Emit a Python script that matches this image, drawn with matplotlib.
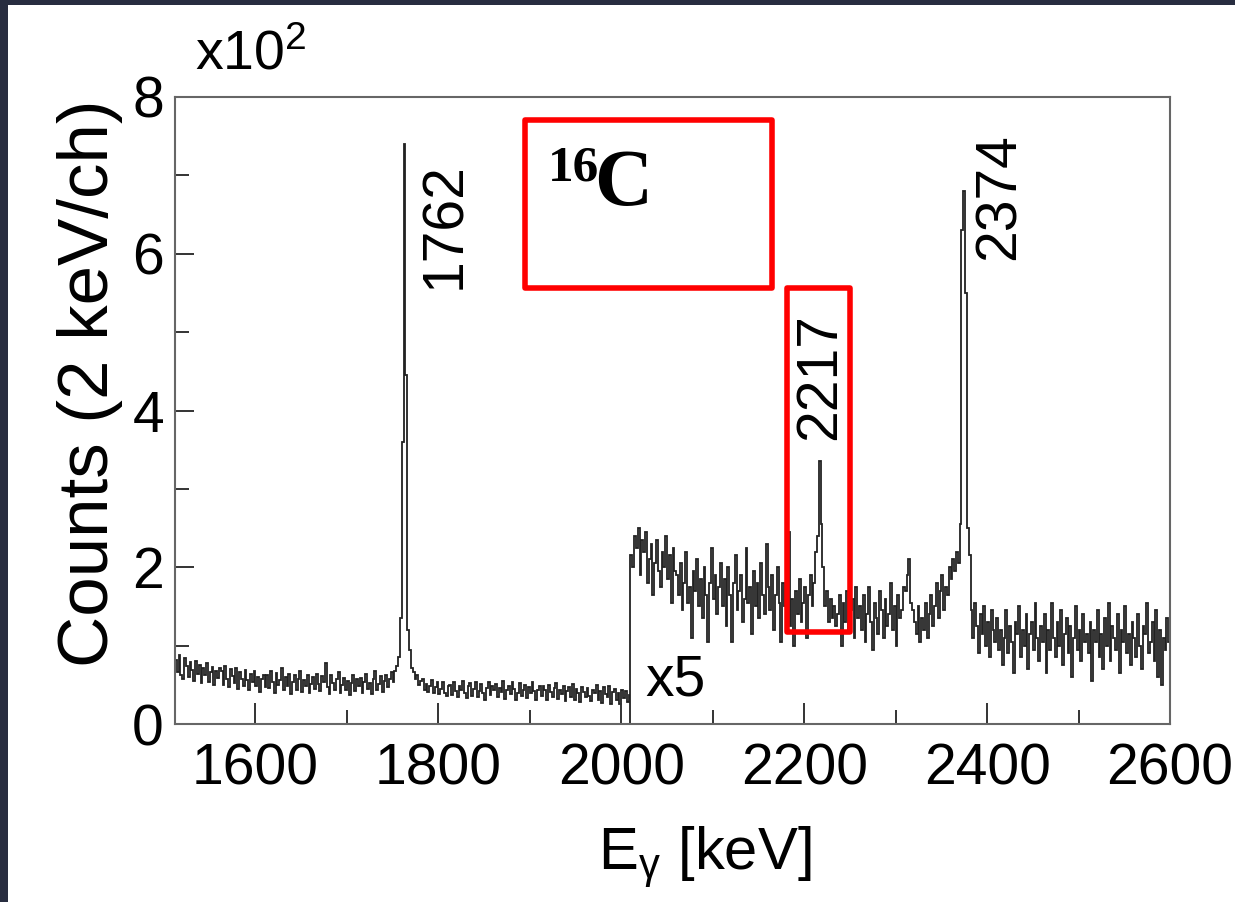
import numpy as np
import matplotlib
matplotlib.use('Agg')
import matplotlib.pyplot as plt
from matplotlib.patches import Rectangle
from matplotlib.ticker import MultipleLocator

plt.rcParams['font.family'] = ['Liberation Sans', 'DejaVu Sans']
plt.rcParams['mathtext.fontset'] = 'custom'
plt.rcParams['mathtext.rm'] = 'Liberation Sans'
plt.rcParams['mathtext.it'] = 'Liberation Sans:italic'

# gamma spectrum, counts per 2 keV channel
ch_width = 2
e_start = 1512
e_split = 2010   # above this the spectrum is shown scaled by 5
e_stop = 2600
scale_high = 5

counts_low = [
    82, 66, 88, 63, 58, 84, 74, 60, 79, 69, 55, 80, 64, 75, 52, 71, 62, 78, 54, 66, 73, 50, 68, 59, 72,
    67, 50, 74, 58, 47, 70, 61, 52, 72, 45, 66, 57, 49, 69, 56, 43, 64, 53, 67, 48, 60, 41, 58, 63, 47,
    63, 46, 68, 54, 40, 65, 50, 56, 71, 43, 60, 48, 64, 38, 53, 62, 44, 58, 67, 41, 56, 49, 62, 39, 51,
    60, 45, 64, 51, 42, 61, 53, 78, 47, 38, 63, 52, 43, 57, 66, 40, 50, 59, 44, 55, 37, 52, 62, 42, 57,
    48, 59, 40, 54, 64, 45, 52, 38, 57, 67, 43, 51, 61, 41, 55, 63, 47, 58, 66, 54, 68, 74, 85, 135, 360,
    740, 445, 120, 95, 72, 66, 57, 62, 50, 55, 58, 44, 51, 41, 48, 56, 39, 47, 53, 38, 45, 54, 40, 36, 49,
    50, 37, 53, 42, 35, 49, 44, 55, 39, 33, 48, 52, 36, 45, 54, 34, 42, 51, 40, 31, 46, 53, 37, 49, 43,
    51, 35, 46, 41, 55, 32, 44, 49, 38, 53, 45, 30, 40, 52, 36, 43, 50, 33, 47, 39, 54, 42, 31, 44, 48,
    36, 48, 43, 30, 50, 41, 35, 46, 52, 32, 44, 38, 49, 29, 42, 47, 34, 51, 31, 45, 40, 28, 47, 41, 35,
    46, 36, 29, 44, 39, 50, 31, 42, 27, 47, 38, 35, 48, 26, 41, 45, 30, 39, 25, 43, 33, 42, 28, 37,
]

counts_high = [
    43, 40, 48, 45, 50, 38, 47, 44, 49, 36, 42, 46, 33, 41, 47, 39, 35, 44, 40, 48, 37, 43, 31, 45, 39,
    38, 33, 41, 29, 36, 44, 31, 35, 22, 39, 34, 42, 30, 37, 27, 40, 33, 21, 36, 45, 32, 38, 28, 35, 41,
    30, 37, 25, 40, 33, 21, 36, 43, 29, 34, 38, 26, 32, 45, 31, 35, 23, 39, 30, 36, 27, 41, 33, 28, 46,
    35, 29, 38, 24, 33, 40, 31, 21, 36, 30, 27, 49, 25, 32, 20, 34, 28, 37, 26, 31, 35, 22, 33, 38, 30,
    36, 44, 48, 67, 51, 40, 30, 34, 26, 32, 27, 30, 25, 28, 33, 20, 31, 26, 34, 24, 29, 32, 22, 35, 27,
    30, 24, 33, 21, 28, 35, 26, 19, 31, 27, 23, 34, 29, 22, 32, 25, 28, 36, 24, 30, 20, 33, 27, 29, 35,
    34, 38, 42, 31, 29, 26, 23, 30, 21, 27, 24, 31, 22, 28, 33, 25, 30, 36, 27, 34, 38, 29, 35, 33, 40,
    37, 42, 39, 44, 41, 51, 126, 136, 110, 50, 43, 29, 22, 31, 25, 18, 28, 23, 30, 20, 26, 17, 29, 24, 21,
    27, 19, 24, 15, 22, 29, 18, 25, 21, 13, 26, 23, 30, 17, 24, 20, 28, 14, 23, 26, 19, 31, 22, 16, 25,
    21, 28, 13, 24, 19, 31, 22, 17, 26, 20, 29, 15, 23, 27, 18, 25, 12, 22, 30, 19, 24, 16, 28, 21, 23,
    18, 26, 11, 24, 21, 29, 17, 23, 14, 27, 20, 31, 16, 25, 22, 19, 28, 13, 24, 21, 30, 18, 23, 15, 26,
    22, 17, 28, 20, 14, 25, 23, 31, 18, 21, 26, 16, 29, 12, 24, 10, 22, 19, 27, 21,
]

peak_energies = [1762, 2217, 2374]
peak_label_pos = [(1807, 5.55), (2217, 3.62), (2414, 5.92)]

edges_low = np.arange(e_start, e_split + 1, ch_width)
edges_high = np.arange(e_split, e_stop + 1, ch_width)
y_low = np.array(counts_low) / 100.0
y_high = np.array(counts_high) * scale_high / 100.0

W, H = 1235, 902
fig = plt.figure(figsize=(W / 100, H / 100), dpi=100)
fig.patch.set_facecolor('#282d40')
fig.add_artist(Rectangle((8 / W, 0), 1, 1 - 5 / H, transform=fig.transFigure,
                         facecolor='white', edgecolor='none', zorder=-10))
ax = fig.add_axes([175 / W, 1 - 724 / H, (1170 - 175) / W, (724 - 97) / H])
ax.set_facecolor('white')

ax.stairs(y_low, edges_low, baseline=None, color='#222222', lw=1.3)
ax.stairs(y_high, edges_high, baseline=0, color='#222222', lw=1.3)

ax.set_xlim(e_start, e_stop)
ax.set_ylim(0, 8)
ax.xaxis.set_major_locator(MultipleLocator(200))
ax.xaxis.set_minor_locator(MultipleLocator(100))
ax.yaxis.set_major_locator(MultipleLocator(2))
ax.yaxis.set_minor_locator(MultipleLocator(1))
ax.tick_params(which='both', direction='in', color='#333333', width=1.4, labelsize=41)
ax.tick_params(axis='x', which='major', length=15, pad=13)
ax.tick_params(axis='x', which='minor', length=10)
ax.tick_params(axis='y', which='major', length=14, pad=8)
ax.tick_params(axis='y', which='minor', length=10)
for s in ax.spines.values():
    s.set_color('#666666')
    s.set_linewidth(1.5)

fig.text(705 / W, 1 - 870 / H, r'E$_{\mathrm{\gamma}}$ [keV]', fontsize=43,
         ha='center', va='baseline')
fig.text(90 / W, 1 - 383 / H, 'Counts (2 keV/ch)', fontsize=51, rotation=90,
         ha='center', va='center')
fig.text(195 / W, 1 - 70 / H, r'x10$^2$', fontsize=40, ha='left', va='baseline')

for e, (lx, ly) in zip(peak_energies, peak_label_pos):
    ax.text(lx, ly, str(e), rotation=90, ha='center', va='bottom', fontsize=41)
ax.text(2026, 0.37, 'x5', fontsize=41, ha='left', va='baseline')

# highlight boxes
ax.add_patch(Rectangle((1895, 5.56), 2165 - 1895, 7.71 - 5.56, fill=False,
                       edgecolor='#ff0000', lw=4, joinstyle='round', clip_on=False))
ax.add_patch(Rectangle((2181, 1.17), 2250 - 2181, 5.56 - 1.17, fill=False,
                       edgecolor='#ff0000', lw=4, joinstyle='round', clip_on=False))
ax.text(1920, 6.94, '16', fontsize=37, fontfamily='Liberation Serif', fontweight='bold',
        ha='left', va='baseline')
ax.text(1970, 6.62, 'C', fontsize=58, fontfamily='Liberation Serif', fontweight='bold',
        ha='left', va='baseline')

fig.savefig('out.png', dpi=100, facecolor=fig.get_facecolor())
